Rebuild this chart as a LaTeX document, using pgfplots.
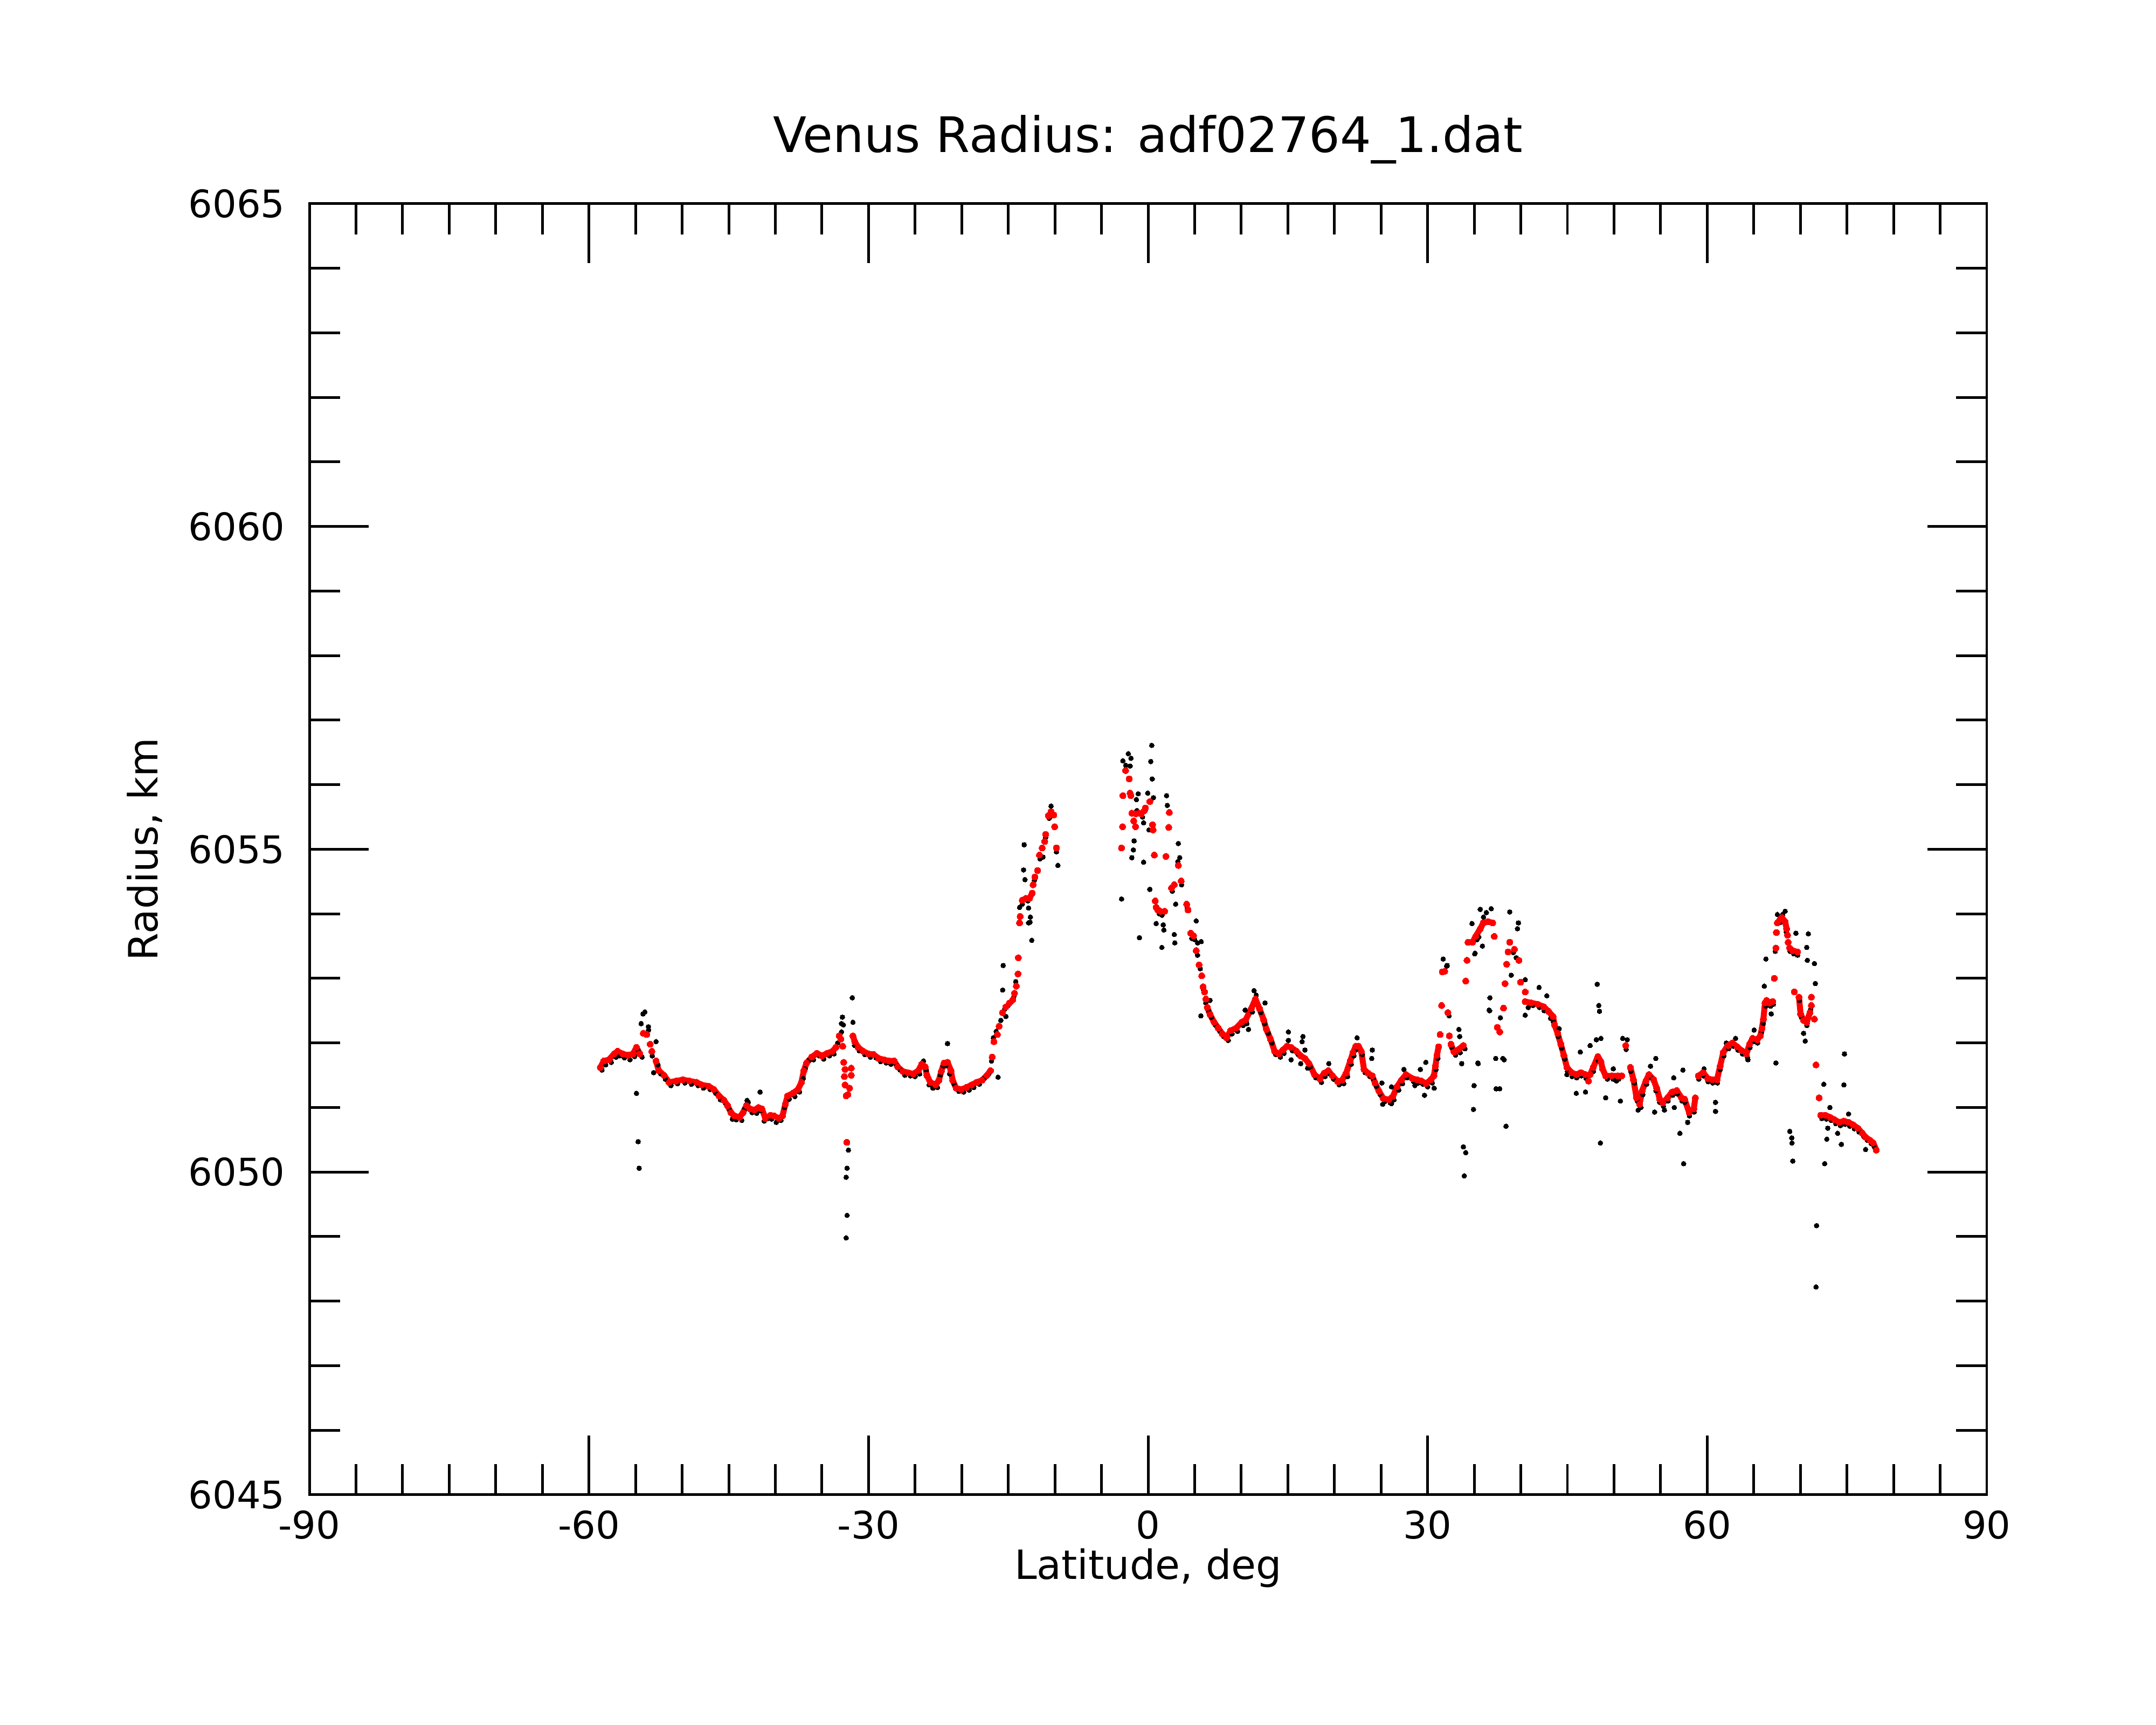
\documentclass[border=0pt]{standalone}
\usepackage{fontspec}
\setmainfont{DejaVu Sans}
\usepackage{pgfplots}
\pgfplotsset{compat=1.18}
\begin{document}
\begin{tikzpicture}
\useasboundingbox (-103.71pt,-77.15pt) rectangle (618.99pt,501.01pt);
\begin{axis}[
  at={(0pt,0pt)}, anchor=south west,
  width=562.26pt, height=432.72pt, scale only axis,
  xmin=-90, xmax=90, ymin=6045, ymax=6065,
  xtick={-90,-60,-30,0,30,60,90}, minor x tick num=5,
  ytick={6045,6050,6055,6060,6065}, minor y tick num=4,
  tick align=inside, major tick length=19.9pt, minor tick length=10.3pt,
  every tick/.style={black, line width=0.9pt},
  axis line style={line width=0.9pt},
  /pgf/number format/assume math mode=true,
  /pgf/number format/set thousands separator={},
  tick label style={font=\fontsize{12.7}{15}\selectfont},
  xticklabel style={anchor=base, yshift=-14.8pt, inner sep=0pt},
  yticklabel style={anchor=east, xshift=-8pt, inner sep=0pt},
  title={Venus Radius: adf02764\_1.dat},
  title style={at={(axis description cs:0.5,1.0258)}, anchor=base, inner sep=0pt, font=\fontsize{16.4}{19}\selectfont},
  xlabel={Latitude, deg},
  xlabel style={at={(axis description cs:0.5,-0.0652)}, anchor=base, inner sep=0pt, font=\fontsize{13.5}{16}\selectfont},
  ylabel={Radius, km},
  ylabel style={at={(axis description cs:-0.0904,0.5)}, anchor=base, inner sep=0pt, font=\fontsize{13.5}{16}\selectfont},
  unbounded coords=jump,
]
% raw (black)
\addplot[color=black, only marks, mark=*, mark size=0.8pt, mark options={draw=black, fill=black, line width=0pt}] coordinates {
(-58.6,6051.58) (-58.2,6051.66) (-57.6,6051.70) (-57.1,6051.78) (-56.7,6051.80) (-56.2,6051.77)
(-55.6,6051.74) (-55.1,6051.79) (-54.7,6051.88) (-54.3,6051.78) (-53.6,6052.20) (-53.2,6051.80)
(-52.6,6051.66) (-52.3,6051.52) (-51.8,6051.44) (-51.2,6051.34) (-50.5,6051.37) (-49.7,6051.38)
(-49.0,6051.36) (-48.3,6051.34) (-47.7,6051.30) (-47.0,6051.28) (-46.4,6051.22) (-45.9,6051.12)
(-45.3,6051.05) (-44.9,6050.96) (-44.6,6050.82) (-44.2,6050.81) (-43.6,6050.80) (-43.3,6050.98)
(-42.9,6051.08) (-42.5,6050.92) (-42.0,6050.91) (-41.6,6050.95) (-41.2,6050.79) (-40.8,6050.83)
(-40.4,6050.82) (-39.9,6050.77) (-39.4,6050.80) (-39.0,6051.00) (-38.5,6051.13) (-37.9,6051.17)
(-37.4,6051.24) (-37.0,6051.45) (-36.8,6051.60) (-36.4,6051.73) (-35.9,6051.74) (-35.3,6051.80)
(-34.8,6051.75) (-34.2,6051.80) (-33.7,6051.83) (-33.3,6052.00) (-32.9,6052.17) (-32.7,6052.28)
(-31.5,6051.96) (-31.0,6051.88) (-30.4,6051.82) (-29.8,6051.78) (-29.2,6051.77) (-28.7,6051.71)
(-28.1,6051.69) (-27.6,6051.67) (-27.0,6051.66) (-26.6,6051.58) (-26.1,6051.50) (-25.5,6051.49)
(-25.0,6051.48) (-24.5,6051.52) (-24.1,6051.72) (-23.8,6051.58) (-23.5,6051.35) (-23.1,6051.30)
(-22.6,6051.31) (-22.3,6051.50) (-22.0,6051.64) (-21.7,6051.65) (-21.3,6051.52) (-20.8,6051.36)
(-20.3,6051.25) (-19.8,6051.24) (-19.2,6051.27) (-18.7,6051.31) (-18.1,6051.36) (-17.6,6051.45)
(-17.1,6051.52) (-16.8,6051.72) (-16.6,6052.08) (-16.3,6052.18) (-15.8,6052.35) (-15.4,6052.52)
(-15.0,6052.58) (-14.7,6052.63) (-14.4,6052.72) (-14.2,6052.95)
(-54.90,6051.22) (-54.72,6050.47) (-54.61,6050.06) (-54.40,6052.30) (-54.20,6052.45) (-54.00,6052.48)
(-53.62,6052.25) (-52.80,6052.02) (-53.06,6051.54) (-41.63,6051.24) (-43.03,6051.11)
(-31.74,6052.70) (-32.90,6052.30) (-32.80,6052.40) (-31.67,6052.32) (-32.15,6050.34) (-32.30,6050.06)
(-32.40,6049.92) (-32.30,6049.33) (-32.40,6048.98) (-21.52,6051.99) (-16.10,6051.47)
(-15.55,6053.20) (-15.60,6052.82) (-15.25,6052.41) (-12.48,6053.59) (-12.67,6053.87)
(-13.30,6055.07) (-13.36,6054.68) (-13.21,6054.53) (-10.41,6055.67) (-9.68,6054.75) (-9.83,6054.96)
(-13.79,6054.10) (-12.82,6054.09) (-12.63,6053.95) (-12.82,6053.86) (-11.28,6054.88)
(-13.5,6054.15) (-12.9,6054.20) (-12.2,6054.52) (-11.6,6054.85) (-11.0,6055.18) (-10.6,6055.48)
(0.39,6056.61) (0.29,6056.36) (0.44,6056.09) (-2.12,6056.48) (-1.83,6056.41) (-2.70,6056.37)
(-1.93,6056.29) (-2.40,6056.30) (-1.06,6055.86) (-0.04,6055.87) (0.58,6055.80) (-1.25,6055.77)
(-0.48,6055.41) (0.10,6055.30) (-1.50,6055.13) (-1.58,6054.99) (-1.74,6054.87) (-0.48,6054.80)
(0.19,6054.38) (-2.85,6054.23) (-0.93,6053.63) (0.87,6053.85) (-1.20,6055.60) (-0.60,6055.50)
(1.48,6053.48) (2.87,6053.55) (2.81,6053.68) (1.63,6053.83) (1.70,6053.75) (2.96,6054.15)
(1.98,6055.83) (2.07,6055.68) (3.25,6055.09) (3.40,6054.87) (3.19,6054.81) (1.20,6054.00)
(1.50,6053.98) (2.60,6054.35) (3.60,6054.45) (4.20,6054.10) (5.17,6053.89) (5.32,6053.55)
(5.70,6053.57) (5.67,6052.42) (6.65,6052.66) (4.7,6053.62) (5.0,6053.60) (5.3,6053.36)
(5.6,6053.15) (5.95,6052.82) (6.2,6052.62) (6.5,6052.50) (6.8,6052.40) (7.2,6052.28)
(7.7,6052.18) (8.1,6052.10) (8.6,6052.04) (9.0,6052.14) (9.6,6052.18) (10.2,6052.27)
(10.6,6052.30) (10.42,6052.51) (10.78,6052.21) (11.2,6052.48) (11.37,6052.81) (11.6,6052.74)
(12.1,6052.47) (12.55,6052.62) (12.5,6052.30) (12.9,6052.15) (13.3,6052.00) (13.7,6051.82)
(14.2,6051.78) (14.6,6051.84) (15.06,6052.17) (15.06,6052.04) (15.35,6051.74) (15.5,6051.88)
(16.1,6051.82) (16.38,6051.68) (16.62,6052.10) (16.53,6052.02) (16.83,6051.89) (17.12,6051.61)
(17.4,6051.63) (18.0,6051.46) (18.6,6051.39) (19.0,6051.48) (19.39,6051.68) (19.5,6051.52)
(19.9,6051.44) (20.5,6051.35) (21.0,6051.37) (21.4,6051.48) (21.8,6051.67) (22.1,6051.80)
(22.43,6052.08) (22.4,6051.90) (22.7,6051.90) (23.0,6051.82) (23.3,6051.54) (23.8,6051.48)
(24.06,6051.89) (24.00,6051.76) (24.2,6051.44) (24.5,6051.33) (24.9,6051.20) (25.09,6051.38)
(25.18,6051.05) (25.4,6051.09) (26.0,6051.07) (26.12,6051.32) (26.12,6051.06) (26.4,6051.12)
(26.9,6051.27) (27.3,6051.37) (27.45,6051.59) (27.8,6051.46) (28.5,6051.40) (28.63,6051.34)
(29.0,6051.38) (29.22,6051.59) (29.5,6051.36) (29.66,6051.19) (29.81,6051.70) (30.0,6051.32)
(30.5,6051.38) (30.70,6051.30) (30.9,6051.59) (31.1,6051.76) (31.67,6053.30) (32.03,6053.19)
(32.10,6053.20) (32.3,6052.42) (32.6,6051.93) (33.0,6051.81) (33.35,6052.21) (33.44,6052.10)
(33.5,6051.85) (33.66,6051.68) (34.0,6051.91) (35.42,6051.68) (34.98,6051.34) (34.92,6050.97)
(35.06,6053.38) (36.69,6052.70) (36.60,6052.51) (38.07,6051.76) (37.34,6051.29) (33.83,6050.39)
(34.09,6050.30) (33.93,6049.94) (34.76,6053.85) (35.65,6054.07) (36.82,6054.08) (35.49,6053.64)
(35.09,6053.39) (35.88,6053.50) (36.0,6053.95) (36.3,6054.02) (35.3,6053.60) (36.65,6052.50)
(37.81,6052.39) (37.74,6051.29) (38.41,6050.71) (37.31,6051.76) (38.21,6051.74) (35.39,6051.69)
(38.81,6054.03) (39.74,6053.86) (39.64,6053.77) (38.97,6053.05) (39.2,6053.40) (39.5,6053.32)
(40.47,6052.98) (40.47,6052.43) (40.8,6052.55) (41.3,6052.58) (41.96,6052.86) (42.0,6052.55)
(42.5,6052.50) (42.79,6052.73) (43.2,6052.38) (43.5,6052.33) (44.12,6052.22) (44.0,6052.10)
(44.4,6051.92) (44.7,6051.75) (45.0,6051.56) (44.95,6051.51) (45.5,6051.48) (45.95,6051.22)
(46.0,6051.46) (46.38,6051.86) (46.5,6051.49) (46.94,6051.24) (47.0,6051.45) (47.44,6051.96)
(47.8,6051.56) (48.20,6052.91) (48.37,6052.58) (48.44,6052.49) (48.10,6052.05) (48.60,6052.07)
(48.3,6051.73) (49.10,6051.15) (48.54,6050.45) (49.3,6051.44) (49.9,6051.44) (50.69,6051.10)
(50.93,6052.07) (51.42,6052.05) (49.93,6051.60) (50.26,6051.41) (50.5,6051.44) (51.3,6051.90)
(51.8,6051.56) (52.2,6051.38) (52.59,6050.96) (52.5,6051.10) (52.9,6051.00) (53.1,6051.20)
(53.5,6051.36) (53.92,6051.64) (54.0,6051.46) (54.48,6051.76) (54.35,6050.93) (54.5,6051.26)
(54.9,6051.08) (55.41,6050.96) (55.3,6051.02) (55.8,6051.10) (56.41,6051.46) (56.47,6051.00)
(56.3,6051.19) (56.8,6051.21) (57.07,6050.60) (57.47,6050.13) (57.40,6051.58) (57.3,6051.10)
(57.6,6051.08) (57.90,6050.77) (58.1,6050.87) (58.6,6050.93) (59.1,6051.44) (59.66,6051.60)
(59.6,6051.49) (60.1,6051.40) (60.6,6051.38) (60.89,6051.08) (60.89,6050.94) (61.1,6051.38)
(61.4,6051.59) (61.8,6051.80) (62.05,6052.00) (62.3,6051.91) (62.8,6051.95) (63.04,6052.07)
(63.3,6051.89) (63.8,6051.83) (64.37,6051.74) (64.3,6051.78) (64.6,6051.93) (65.04,6052.20)
(65.0,6052.02) (65.4,6052.00) (65.8,6052.16) (66.0,6052.30) (66.30,6053.30) (66.13,6052.88)
(66.3,6052.57) (66.87,6052.45) (66.8,6052.57) (67.1,6052.60) (67.37,6051.69) (67.3,6053.42)
(67.53,6053.99) (68.36,6054.04) (67.9,6053.87) (68.1,6053.99) (68.5,6053.72) (68.9,6053.42)
(69.52,6053.70) (69.3,6053.38) (69.7,6053.36) (70.85,6053.69) (70.68,6053.48) (70.75,6053.28)
(71.51,6053.23) (71.61,6052.92) (70.35,6052.15) (70.52,6052.03) (69.9,6052.66) (70.1,6052.40)
(70.7,6052.27) (71.1,6052.52) (68.86,6050.63) (69.08,6050.53) (69.10,6050.45) (69.19,6050.17)
(71.74,6049.17) (71.68,6048.22) (72.51,6051.36) (72.61,6050.13) (72.94,6050.68) (72.84,6050.51)
(74.73,6051.83) (74.67,6051.35) (74.40,6050.43) (74.00,6050.60) (77.00,6050.35) (75.17,6050.90)
(73.17,6051.00) (72.3,6050.83) (72.8,6050.82) (73.3,6050.80) (73.8,6050.75) (74.3,6050.72)
(74.8,6050.74) (75.3,6050.71) (75.8,6050.67) (76.3,6050.62) (76.8,6050.55) (77.2,6050.49)
(77.6,6050.44) (77.9,6050.40)
};
% smoothed (red), isolated points
\addplot[color=red, only marks, mark=*, mark size=1.05pt, mark options={draw=red, fill=red, line width=0pt}] coordinates {
(-54.17,6052.15) (-53.80,6052.13) (-53.43,6051.98) (-53.25,6051.87)
(-33.14,6052.11) (-32.96,6052.06) (-32.77,6051.95) (-32.66,6051.70) (-32.52,6051.59) (-32.59,6051.48)
(-32.52,6051.35) (-32.40,6051.18) (-32.22,6051.20) (-32.03,6051.30) (-31.85,6051.50) (-31.85,6051.61)
(-32.33,6050.46)
(-16.73,6051.78) (-16.54,6052.02) (-16.17,6052.13) (-15.99,6052.26) (-15.62,6052.47) (-15.25,6052.56)
(-14.88,6052.62) (-14.51,6052.67) (-14.33,6052.77) (-14.14,6052.88) (-13.96,6053.07) (-13.92,6053.32)
(-13.79,6053.86) (-13.73,6053.96)
(-12.34,6054.45) (-12.15,6054.57) (-11.86,6054.67) (-11.66,6054.91) (-11.37,6055.02) (-11.09,6055.12)
(-10.99,6055.23) (-10.70,6055.52) (-10.41,6055.58) (-10.12,6055.53) (-10.03,6055.35) (-9.83,6055.02)
(-2.85,6055.02) (-2.74,6055.35) (-2.70,6055.83) (-2.41,6056.22) (-2.03,6056.09) (-1.93,6055.87)
(-1.85,6055.83) (-1.74,6055.56) (-1.54,6055.44) (-1.35,6055.35) (-1.32,6055.55) (-0.96,6055.56)
(-0.73,6055.55) (-0.39,6055.60) (-0.29,6055.64) (0.19,6055.74) (0.48,6055.38) (0.54,6055.30)
(0.67,6054.91) (0.77,6054.20) (0.87,6054.10) (1.04,6054.06) (1.33,6054.04) (1.78,6054.04)
(1.92,6054.89) (2.22,6055.34) (2.28,6055.57) (2.51,6054.40) (2.81,6054.45) (3.25,6054.75)
(3.55,6054.51) (4.14,6054.15) (4.29,6054.06) (4.58,6053.70) (4.88,6053.66) (5.17,6053.43)
(5.47,6053.21) (5.76,6053.04) (5.91,6052.87) (6.06,6052.79) (6.20,6052.68)
(31.34,6052.13) (31.50,6052.58) (31.83,6053.11) (31.58,6053.10) (32.17,6052.47) (32.33,6052.11)
(34.09,6052.96) (34.22,6053.28)
(37.15,6053.65) (37.48,6052.24) (37.74,6052.17) (38.14,6052.54) (38.31,6052.92) (38.48,6053.22)
(38.64,6053.41) (38.81,6053.56) (39.31,6053.45) (39.80,6053.28) (39.97,6052.94) (40.47,6052.79)
(47.27,6051.41) (51.26,6051.96)
(67.20,6053.00) (67.37,6053.47) (67.43,6053.71) (68.62,6053.67) (68.69,6053.56) (69.35,6052.79)
(71.18,6052.58) (71.18,6052.71) (71.51,6052.37) (71.68,6051.66) (72.01,6051.15)
};
% smoothed (red), runs of close points
\addplot[color=red, line width=2.0pt, line join=round, line cap=round, mark=*, mark size=1.05pt, mark options={draw=red, fill=red, line width=0pt}] coordinates {
(-58.78,6051.62) (-58.41,6051.72) (-57.86,6051.74) (-57.30,6051.83) (-56.93,6051.87) (-56.38,6051.83)
(-55.83,6051.81) (-55.28,6051.83) (-54.90,6051.93) (-54.54,6051.83)
(-54,nan)
(-52.80,6051.72) (-52.51,6051.57) (-51.95,6051.50) (-51.40,6051.39) (-50.66,6051.41) (-49.93,6051.43)
(-49.20,6051.41) (-48.45,6051.39) (-47.90,6051.35) (-47.16,6051.33) (-46.60,6051.28) (-46.05,6051.18)
(-45.50,6051.11) (-45.13,6051.03) (-44.76,6050.92) (-44.39,6050.87) (-43.84,6050.85) (-43.47,6050.92)
(-43.10,6051.03) (-42.73,6050.98) (-42.25,6050.96) (-41.81,6051.00) (-41.44,6050.98) (-41.07,6050.83)
(-40.52,6050.88) (-40.15,6050.87) (-39.60,6050.83) (-39.23,6050.87) (-38.93,6051.05) (-38.68,6051.18)
(-38.12,6051.22) (-37.57,6051.28) (-37.20,6051.39) (-36.94,6051.57) (-36.65,6051.69) (-36.09,6051.78)
(-35.54,6051.84) (-34.99,6051.80) (-34.43,6051.84) (-33.88,6051.87) (-33.51,6051.93)
(-33,nan)
(-31.67,6052.11) (-31.48,6052.02) (-31.11,6051.93) (-30.56,6051.87) (-30.00,6051.83) (-29.45,6051.82)
(-28.90,6051.76) (-28.35,6051.74) (-27.79,6051.72) (-27.24,6051.72) (-26.87,6051.63) (-26.32,6051.56)
(-25.76,6051.54) (-25.21,6051.52) (-24.66,6051.57) (-24.29,6051.67) (-23.92,6051.63) (-23.74,6051.50)
(-23.37,6051.39) (-22.81,6051.35) (-22.45,6051.42) (-22.19,6051.56) (-21.89,6051.69) (-21.52,6051.70)
(-21.15,6051.57) (-20.97,6051.42) (-20.60,6051.30) (-20.05,6051.28) (-19.49,6051.31) (-18.94,6051.35)
(-18.39,6051.39) (-17.83,6051.42) (-17.28,6051.50) (-16.91,6051.57)
(-15,nan)
(-13.50,6054.21) (-13.11,6054.24) (-12.72,6054.24) (-12.44,6054.32)
(0,nan)
(6.35,6052.55) (6.65,6052.44) (7.09,6052.32) (7.53,6052.23) (7.97,6052.14) (8.42,6052.08)
(8.86,6052.19) (9.45,6052.23) (10.04,6052.32) (10.48,6052.36) (11.07,6052.53) (11.52,6052.68)
(11.96,6052.53) (12.40,6052.36) (12.70,6052.21) (13.14,6052.06) (13.58,6051.87) (14.03,6051.83)
(14.47,6051.89) (14.91,6051.95) (15.35,6051.93) (15.94,6051.87) (16.38,6051.80) (16.83,6051.76)
(17.27,6051.68) (17.86,6051.51) (18.45,6051.44) (18.89,6051.53) (19.34,6051.57) (19.78,6051.49)
(20.37,6051.40) (20.81,6051.42) (21.25,6051.53) (21.70,6051.72) (21.99,6051.85) (22.29,6051.95)
(22.58,6051.95) (22.88,6051.87) (23.17,6051.59) (23.61,6051.53) (24.06,6051.49) (24.35,6051.38)
(24.79,6051.25) (25.24,6051.14) (25.83,6051.12) (26.27,6051.17) (26.71,6051.32) (27.16,6051.42)
(27.68,6051.51) (28.35,6051.45) (28.85,6051.43) (29.34,6051.41) (29.84,6051.37) (30.34,6051.43)
(30.67,6051.49) (30.84,6051.64) (31.00,6051.81) (31.17,6051.94)
(32,nan)
(32.50,6051.98) (32.83,6051.86) (33.33,6051.90) (33.83,6051.96)
(34,nan)
(34.33,6053.56) (34.82,6053.56) (35.15,6053.65) (35.65,6053.77) (35.98,6053.86) (36.48,6053.88)
(36.98,6053.86)
(38,nan)
(40.47,6052.64) (41.13,6052.62) (41.80,6052.60) (42.46,6052.56) (42.96,6052.49) (43.46,6052.41)
(43.62,6052.28) (43.95,6052.15) (44.29,6051.98) (44.62,6051.81) (44.95,6051.62) (45.45,6051.54)
(45.95,6051.51) (46.44,6051.54) (46.94,6051.51)
(47,nan)
(47.44,6051.51) (47.77,6051.62) (48.27,6051.79) (48.60,6051.71) (48.77,6051.60) (49.10,6051.49)
(49.77,6051.49) (50.43,6051.49) (50.83,6051.49)
(51,nan)
(51.76,6051.62) (52.09,6051.43) (52.42,6051.15) (52.75,6051.05) (53.02,6051.26) (53.42,6051.41)
(53.75,6051.51) (54.25,6051.43) (54.58,6051.30) (54.91,6051.13) (55.24,6051.07) (55.74,6051.15)
(56.24,6051.24) (56.74,6051.26) (57.24,6051.15) (57.57,6051.13) (58.07,6050.92) (58.56,6050.98)
(58.73,6051.15)
(58.9,nan)
(59.06,6051.49) (59.56,6051.54) (60.06,6051.45) (60.56,6051.43) (61.05,6051.43) (61.39,6051.64)
(61.72,6051.85) (62.22,6051.96) (62.71,6052.00) (63.21,6051.94) (63.71,6051.88) (64.21,6051.83)
(64.54,6051.98) (64.87,6052.07) (65.37,6052.05) (65.70,6052.11) (65.87,6052.22) (66.03,6052.37)
(66.20,6052.62) (66.37,6052.66) (66.70,6052.62) (67.03,6052.64)
(67.1,nan)
(67.53,6053.86) (67.86,6053.92) (68.03,6053.94) (68.36,6053.88) (68.52,6053.77)
(68.7,nan)
(68.85,6053.47) (69.19,6053.43) (69.69,6053.41)
(69.7,nan)
(69.85,6052.71) (70.02,6052.45) (70.35,6052.35) (70.68,6052.32) (71.02,6052.47)
(71.1,nan)
(72.18,6050.88) (72.68,6050.88) (73.17,6050.85) (73.67,6050.81) (74.17,6050.77) (74.67,6050.79)
(75.17,6050.77) (75.67,6050.73) (76.16,6050.68) (76.66,6050.60) (77.00,6050.54) (77.49,6050.49)
(77.82,6050.45) (78.15,6050.34)
};
\end{axis}
\end{tikzpicture}
\end{document}
